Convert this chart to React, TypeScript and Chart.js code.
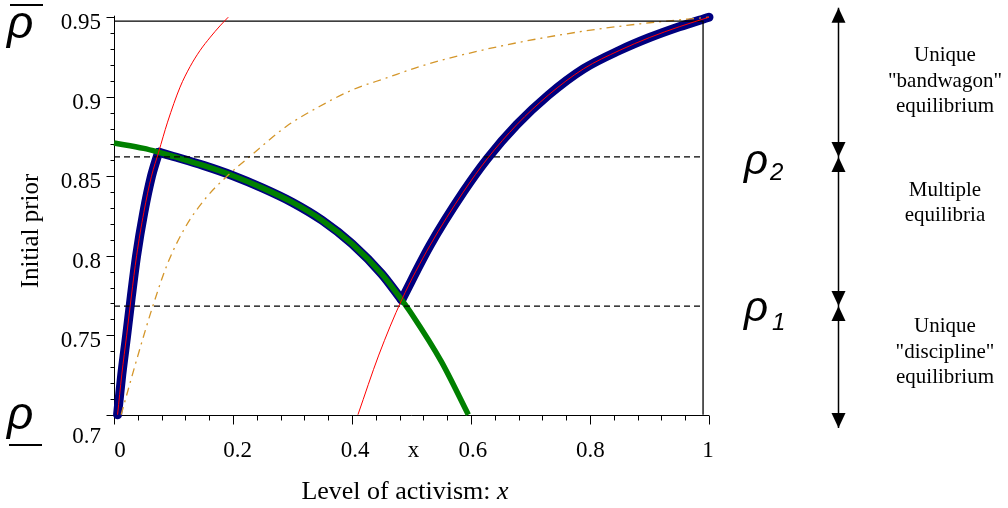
import React, { useEffect, useRef } from "react";
import { Chart, registerables } from "chart.js";

Chart.register(...registerables);

// ---- data ----
const redLeftX = [0.006, 0.013, 0.0213, 0.029, 0.038, 0.05, 0.063, 0.075, 0.09, 0.111, 0.128, 0.1445, 0.162, 0.178, 0.192];
const redLeftY = [0.7, 0.725, 0.75, 0.774, 0.8, 0.827, 0.85, 0.8651, 0.884, 0.906, 0.919, 0.929, 0.9375, 0.9445, 0.95];

const redRightX = [0.41, 0.445, 0.4835, 0.531, 0.587, 0.628, 0.677, 0.73, 0.789, 0.85, 0.9, 0.95, 1.0];
const redRightY = [0.7, 0.7375, 0.7722, 0.8064, 0.84, 0.8613, 0.8824, 0.901, 0.9175, 0.9292, 0.9372, 0.944, 0.95];

const greenX = [0, 0.05, 0.075, 0.1, 0.15, 0.2, 0.25, 0.3, 0.35, 0.4, 0.45, 0.4835, 0.5, 0.55, 0.5955];
const greenY = [0.8709, 0.8675, 0.8651, 0.8624, 0.8568, 0.8503, 0.8425, 0.8335, 0.8222, 0.8075, 0.7885, 0.7722, 0.7635, 0.7335, 0.7];

const orangeX = [0.012, 0.04, 0.065, 0.09, 0.12, 0.156, 0.19, 0.2286, 0.29, 0.346, 0.402, 0.458, 0.514, 0.593, 0.677, 0.789, 0.9, 1.0];
const orangeY = [0.7, 0.737, 0.768, 0.795, 0.818, 0.837, 0.85, 0.8625, 0.8814, 0.894, 0.9045, 0.9118, 0.919, 0.927, 0.9339, 0.9412, 0.9465, 0.95];

// intersections where the thick (blue) equilibrium path switches branch
const switchLowX = 0.075;
const switchHighX = 0.4835;

const rho1 = 0.7683;
const rho2 = 0.8621;
const rhoBar = 0.9475;
const frameRightX = 0.99;
const arrowTopY = 0.956;
const arrowBottomY = 0.6916;

const xMin = 0, xMax = 1, yMin = 0.7, yMax = 0.95;
const xTickValues = [0, 0.2, 0.4, 0.6, 0.8, 1];
const xTickLabels = ["0", "0.2", "0.4", "0.6", "0.8", "1"];
const xMarkerValue = 0.5;
const xMarkerLabel = "x";
const yTickValues = [0.7, 0.75, 0.8, 0.85, 0.9, 0.95];
const yTickLabels = ["0.7", "0.75", "0.8", "0.85", "0.9", "0.95"];
const xMinorStep = 0.04;
const yMinorStep = 0.01;

const xTitle = "Level of activism: ";
const xTitleVar = "x";
const yTitle = "Initial prior";
const regionTop = ["Unique", "\"bandwagon\"", "equilibrium"];
const regionMid = ["Multiple", "equilibria"];
const regionLow = ["Unique", "\"discipline\"", "equilibrium"];

const pts = (xs: number[], ys: number[]) => xs.map((x, i) => ({ x, y: ys[i] }));

const SERIF = "'Liberation Serif', 'Times New Roman', serif";
const SANS = "'Liberation Sans', Arial, sans-serif";

const overlayPlugin = {
  id: "overlay",
  beforeDatasetsDraw(chart: any) {
    const { ctx } = chart;
    const xs = chart.scales.x;
    const ys = chart.scales.y;
    const px = (v: number) => xs.getPixelForValue(v);
    const py = (v: number) => ys.getPixelForValue(v);
    const ax = Math.round(px(0)) + 0.5;
    const ay = Math.round(py(yMin)) + 0.5;
    ctx.save();
    ctx.strokeStyle = "#000";
    ctx.lineWidth = 1;
    ctx.beginPath();
    ctx.moveTo(ax, ay);
    ctx.lineTo(px(xMax), ay);
    ctx.moveTo(ax, ay);
    ctx.lineTo(ax, py(yMax) - 1.5);
    const nY = Math.round((yMax - yMin) / yMinorStep);
    for (let i = 0; i <= nY; i++) {
      const v = yMin + i * yMinorStep;
      const major = i % 5 === 0;
      const yy = Math.round(py(v)) + 0.5;
      ctx.moveTo(ax, yy);
      ctx.lineTo(ax - (major ? 8 : 4), yy);
    }
    const nX = Math.round((xMax - xMin) / xMinorStep);
    for (let i = 0; i <= nX; i++) {
      const v = xMin + i * xMinorStep;
      const major = xTickValues.some((t) => Math.abs(t - v) < 1e-9);
      const xx = Math.round(px(v)) + 0.5;
      ctx.moveTo(xx, ay);
      ctx.lineTo(xx, ay + (major ? 9 : 5));
    }
    ctx.stroke();

    ctx.fillStyle = "#000";
    ctx.font = `23px ${SERIF}`;
    ctx.textBaseline = "alphabetic";
    ctx.textAlign = "center";
    xTickValues.forEach((v, i) => {
      ctx.fillText(xTickLabels[i], px(v) + 6 - 7 * v, 457);
    });
    ctx.fillText(xMarkerLabel, px(xMarkerValue) + 2, 457);
    ctx.textAlign = "right";
    yTickValues.forEach((v, i) => {
      const off = i === 0 ? 28 : 12;
      ctx.fillText(yTickLabels[i], 101, py(v) + off);
    });
    ctx.restore();
  },
  afterDraw(chart: any) {
    const { ctx } = chart;
    const ys = chart.scales.y;
    const py = (v: number) => ys.getPixelForValue(v);
    ctx.save();
    ctx.fillStyle = "#000";
    ctx.strokeStyle = "#000";

    ctx.textBaseline = "alphabetic";
    ctx.textAlign = "left";
    ctx.font = `26px ${SERIF}`;
    const w1 = ctx.measureText(xTitle).width;
    ctx.font = `italic 26px ${SERIF}`;
    const w2 = ctx.measureText(xTitleVar).width;
    const sx = 405 - (w1 + w2) / 2;
    ctx.font = `26px ${SERIF}`;
    ctx.fillText(xTitle, sx, 499);
    ctx.font = `italic 26px ${SERIF}`;
    ctx.fillText(xTitleVar, sx + w1, 499);

    ctx.save();
    ctx.translate(38, 231);
    ctx.rotate(-Math.PI / 2);
    ctx.textAlign = "center";
    ctx.font = `25px ${SERIF}`;
    ctx.fillText(yTitle, 0, 0);
    ctx.restore();

    ctx.textAlign = "left";
    ctx.font = `italic 46px ${SANS}`;
    ctx.fillText("\u03C1", 7, 38);
    ctx.fillText("\u03C1", 7, 429);
    ctx.lineWidth = 2;
    ctx.beginPath();
    ctx.moveTo(10, 5);
    ctx.lineTo(43, 5);
    ctx.moveTo(9, 445);
    ctx.lineTo(42, 445);
    ctx.stroke();

    ctx.font = `italic 42px ${SANS}`;
    ctx.fillText("\u03C1", 744, 174);
    ctx.fillText("\u03C1", 744, 321);
    ctx.font = `italic 24px ${SANS}`;
    ctx.fillText("2", 770, 180);
    ctx.fillText("1", 772, 330);

    const axp = 838.5;
    const yT = py(arrowTopY);
    const y2 = py(rho2);
    const y1 = py(rho1);
    const yB = py(arrowBottomY);
    ctx.lineWidth = 1.5;
    ctx.beginPath();
    ctx.moveTo(axp, yT);
    ctx.lineTo(axp, yB);
    ctx.stroke();
    const head = (tipY: number, dir: number) => {
      ctx.beginPath();
      ctx.moveTo(axp, tipY);
      ctx.lineTo(axp - 7, tipY + dir * 15);
      ctx.lineTo(axp + 7, tipY + dir * 15);
      ctx.closePath();
      ctx.fill();
    };
    head(yT, 1);
    head(y2, -1);
    head(y2, 1);
    head(y1, -1);
    head(y1, 1);
    head(yB, -1);

    ctx.textAlign = "center";
    ctx.font = `21px ${SERIF}`;
    const cx = 945;
    [61, 87, 112].forEach((b, i) => ctx.fillText(regionTop[i], cx, b));
    [196, 221].forEach((b, i) => ctx.fillText(regionMid[i], cx, b));
    [332, 358, 383].forEach((b, i) => ctx.fillText(regionLow[i], cx, b));
    ctx.restore();
  },
};

export default function App() {
  const ref = useRef<HTMLCanvasElement | null>(null);
  useEffect(() => {
    if (!ref.current) return;
    const redLeft = pts(redLeftX, redLeftY);
    const redRight = pts(redRightX, redRightY);
    const green = pts(greenX, greenY);
    const orange = pts(orangeX, orangeY);
    const blueLeft = redLeft.filter((p) => p.x <= switchLowX + 1e-9);
    const blueMid = green.filter((p) => p.x >= switchLowX - 1e-9 && p.x <= switchHighX + 1e-9);
    const blueRight = redRight.filter((p) => p.x >= switchHighX - 1e-9);

    const base = {
      pointRadius: 0,
      pointHoverRadius: 0,
      fill: false,
      clip: false as any,
      cubicInterpolationMode: "monotone" as const,
    };
    const blue = {
      ...base,
      borderColor: "#00007f",
      borderWidth: 9,
      borderCapStyle: "round" as const,
      borderJoinStyle: "round" as const,
      order: 10,
    };
    const straight = { ...base, cubicInterpolationMode: "default" as const, tension: 0 };
    const chart = new Chart(ref.current, {
      type: "line",
      data: {
        datasets: [
          { ...blue, data: blueLeft },
          { ...blue, data: blueMid },
          { ...blue, data: blueRight },
          { ...base, data: green, borderColor: "#008000", borderWidth: 5.5, order: 6 },
          { ...base, data: orange, borderColor: "#d4962a", borderWidth: 1.3, borderDash: [8, 5, 2, 5], order: 4 },
          { ...base, data: redLeft, borderColor: "#ff0000", borderWidth: 1, order: 2 },
          { ...base, data: redRight, borderColor: "#ff0000", borderWidth: 1, order: 2 },
          {
            ...straight,
            data: [{ x: 0, y: rho2 }, { x: frameRightX, y: rho2 }],
            borderColor: "#000",
            borderWidth: 1.3,
            borderDash: [6, 4],
            order: 3,
          },
          {
            ...straight,
            data: [{ x: 0, y: rho1 }, { x: frameRightX, y: rho1 }],
            borderColor: "#000",
            borderWidth: 1.3,
            borderDash: [6, 4],
            order: 3,
          },
          {
            ...straight,
            data: [{ x: 0, y: rhoBar }, { x: frameRightX, y: rhoBar }, { x: frameRightX, y: yMin }],
            borderColor: "#000",
            borderWidth: 1.3,
            order: 3,
          },
        ],
      },
      options: {
        animation: false,
        responsive: false,
        events: [],
        layout: { padding: { left: 114, right: 299, top: 17.2, bottom: 93.3 } },
        plugins: { legend: { display: false }, tooltip: { enabled: false } },
        scales: {
          x: { type: "linear", min: xMin, max: xMax, display: false },
          y: { type: "linear", min: yMin, max: yMax, display: false },
        },
      },
      plugins: [overlayPlugin],
    });
    return () => chart.destroy();
  }, []);

  return (
    <div style={{ position: "absolute", left: 0, top: 0, width: 1008, height: 508, background: "#fff" }}>
      <canvas ref={ref} width={1008} height={508} style={{ width: 1008, height: 508, display: "block" }} />
    </div>
  );
}
